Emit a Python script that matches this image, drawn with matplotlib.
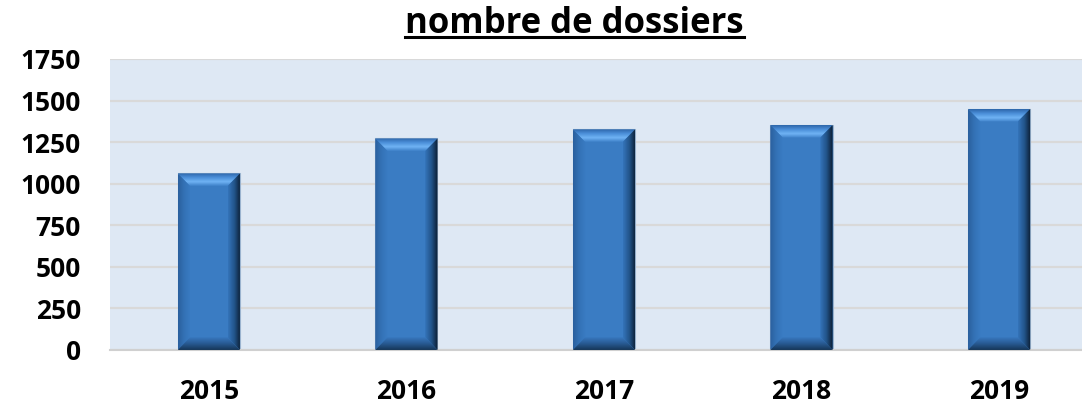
import matplotlib
matplotlib.use("Agg")
import matplotlib.pyplot as plt
from matplotlib.patches import Polygon
from matplotlib.lines import Line2D
import numpy as np

years = ["2015", "2016", "2017", "2018", "2019"]
dossiers = [1062, 1272, 1327, 1353, 1450]
yticks = [0, 250, 500, 750, 1000, 1250, 1500, 1750]

plt.rcParams['font.family'] = ['Open Sans', 'DejaVu Sans']

fig = plt.figure(figsize=(10.82, 4.04), dpi=100)
ax = fig.add_axes([0.1017, 0.1337, 0.8983, 0.7203])
ax.set_facecolor('#dee8f4')
ax.set_xlim(-0.5, 4.42)
ax.set_ylim(0, 1750)
ax.set_yticks(yticks)
ax.set_xticks(range(len(years)))
ax.set_xticklabels(years)
ax.grid(axis='y', color='#d9d9d9', linewidth=1.6)
ax.set_axisbelow(True)
for s in ['top', 'right', 'left']:
    ax.spines[s].set_visible(False)
ax.spines['bottom'].set_color('#d0d0d0')
ax.spines['bottom'].set_linewidth(1.5)
ax.tick_params(length=0, labelsize=19)
ax.tick_params(axis='x', pad=20)
ax.tick_params(axis='y', pad=21)
for lab in ax.get_xticklabels() + ax.get_yticklabels():
    lab.set_fontweight('bold')

w = 0.315
bars = ax.bar(range(len(years)), dossiers, width=w, color='#3a7cc3',
              edgecolor='#9ab3cf', linewidth=0.8, zorder=2)

# bevel effect
bx = 0.062   # bevel width in x data units
by = 76      # bevel height in y data units


def grad_fill(poly, colors, direction):
    patch = Polygon(poly, closed=True, facecolor='none', edgecolor='none', zorder=3)
    ax.add_patch(patch)
    n = 64
    cmap = matplotlib.colors.LinearSegmentedColormap.from_list('g', colors)
    if direction == 'v':
        arr = np.linspace(0, 1, n).reshape(n, 1)
    else:
        arr = np.linspace(0, 1, n).reshape(1, n)
    xs = [p[0] for p in poly]
    ys = [p[1] for p in poly]
    im = ax.imshow(arr, cmap=cmap, extent=[min(xs), max(xs), min(ys), max(ys)],
                   origin='lower', aspect='auto', zorder=3, interpolation='bilinear')
    im.set_clip_path(patch)


for b in bars:
    x0 = b.get_x()
    x1 = x0 + b.get_width()
    h = b.get_height()
    # top bevel (light highlight at inner line, darker toward edge)
    grad_fill([(x0, h), (x1, h), (x1 - bx, h - by), (x0 + bx, h - by)],
              ['#3d80c8', '#70b3f4', '#4a8ed8', '#2d66aa'], 'v')
    # left bevel
    grad_fill([(x0, h), (x0 + bx, h - by), (x0 + bx, by), (x0, 0)],
              ['#2a5f9e', '#3472b6', '#3a7cc3'], 'h')
    # right bevel
    grad_fill([(x1, h), (x1 - bx, h - by), (x1 - bx, by), (x1, 0)],
              ['#3474ba', '#22548a', '#0b1c30'], 'h')
    # bottom bevel
    grad_fill([(x0, 0), (x1, 0), (x1 - bx, by), (x0 + bx, by)],
              ['#163658', '#285a92', '#3878bf'], 'v')

title = fig.text(0.531, 0.918, "nombre de dossiers", ha='center', va='baseline',
                 fontsize=25, fontweight='bold')

fig.canvas.draw()
bb = title.get_window_extent(renderer=fig.canvas.get_renderer())
inv = fig.transFigure.inverted()
(tx0, ty0), (tx1, ty1) = inv.transform([(bb.x0, bb.y0), (bb.x1, bb.y1)])
fig.add_artist(Line2D([tx0, tx1], [0.908, 0.908], color='black', linewidth=2.2,
                      transform=fig.transFigure))

fig.savefig('out.png', dpi=100)
